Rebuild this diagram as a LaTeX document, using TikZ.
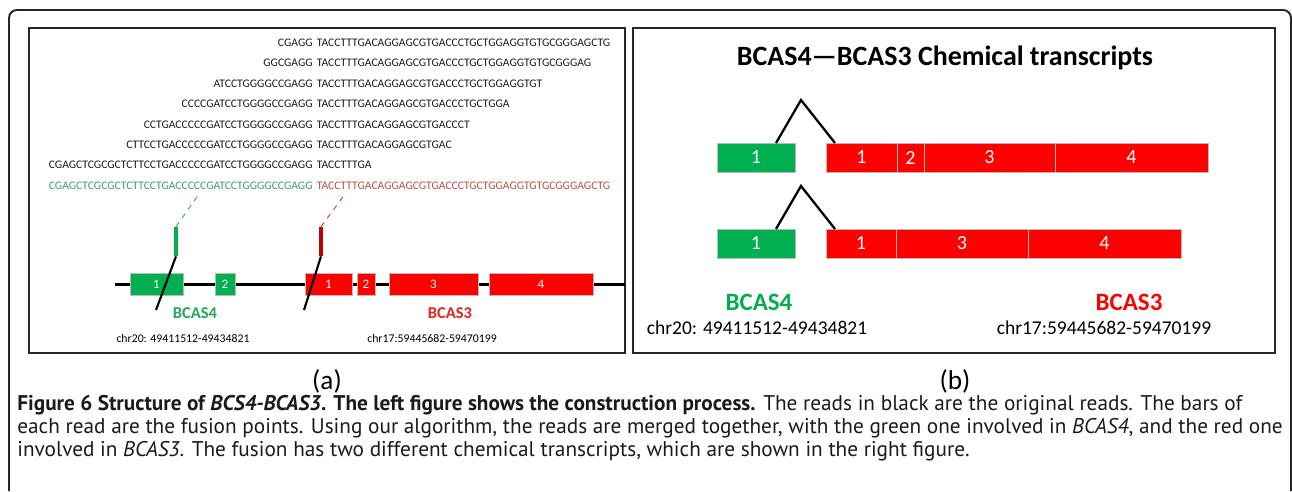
\documentclass[tikz,border=0pt]{standalone}
\usepackage{fontspec}
\setmainfont{Carlito}
\newfontfamily\capfont{PT Sans}
\usetikzlibrary{positioning}
\definecolor{readBlack}{HTML}{1A1A1A}
\definecolor{readGreen}{HTML}{3E9E60}
\definecolor{readRed}{HTML}{C24A48}
\definecolor{exonGreen}{HTML}{00B050}
\definecolor{exonRed}{HTML}{FF0000}
\definecolor{barRed}{HTML}{C00000}
\definecolor{labelGreen}{HTML}{1FA855}
\definecolor{labelRed}{HTML}{E8201E}
\definecolor{frameGrey}{HTML}{262626}

\tikzset{
  readtext/.style={inner sep=0pt, text=readBlack, font=\fontsize{6.6}{7}\selectfont},
  exonA/.style={draw=gray!55, line width=0.3pt, text=white, inner sep=0pt, outer sep=0pt,
    minimum height=0.44cm, font=\fontsize{7.4}{8}\selectfont},
  exonB/.style={exonA, minimum height=0.58cm, font=\fontsize{11.4}{12}\selectfont},
  fusebar/.style={inner sep=0pt, minimum width=0.08cm, minimum height=0.58cm},
  genelabA/.style={inner sep=0pt, font=\bfseries\fontsize{9.4}{10}\selectfont},
  genelabB/.style={inner sep=0pt, font=\bfseries\fontsize{14.2}{15}\selectfont},
  chrA/.style={inner sep=0pt, text=black, font=\fontsize{6.7}{7}\selectfont},
  chrB/.style={inner sep=0pt, text=black, font=\fontsize{11.1}{12}\selectfont},
  panel/.style={draw=frameGrey, line width=1.1pt},
  splice/.style={line width=1.3pt, black},
}

\begin{document}
\begin{tikzpicture}[x=0.02cm, y=-0.02cm]
  \useasboundingbox (0,0) rectangle (1292,491);
  % outer frame and panels
  \draw[frameGrey, line width=1.1pt, rounded corners=0.16cm] (9,491) -- (9,10) -- (1291,10) -- (1291,491);
  \draw[panel] (29,28) rectangle (625,353);
  \draw[panel] (633,28) rectangle (1275,353);

  % (a) reads
  \foreach \pre/\suf [count=\i] in {
      CGAGG/TACCTTTGACAGGAGCGTGACCCTGCTGGAGGTGTGCGGGAGCTG,
      GGCGAGG/TACCTTTGACAGGAGCGTGACCCTGCTGGAGGTGTGCGGGAG,
      ATCCTGGGGCCGAGG/TACCTTTGACAGGAGCGTGACCCTGCTGGAGGTGT,
      CCCCGATCCTGGGGCCGAGG/TACCTTTGACAGGAGCGTGACCCTGCTGGA,
      CCTGACCCCCGATCCTGGGGCCGAGG/TACCTTTGACAGGAGCGTGACCCT,
      CTTCCTGACCCCCGATCCTGGGGCCGAGG/TACCTTTGACAGGAGCGTGAC,
      CGAGCTCGCGCTCTTCCTGACCCCCGATCCTGGGGCCGAGG/TACCTTTGA} {
    \node[readtext, anchor=base east] (pre\i) at ({313},{46.5+20.4*(\i-1)}) {\pre};
    \node[readtext, anchor=base west] (suf\i) at ({316.5},{46.5+20.4*(\i-1)}) {\suf};
  }
  \node[readtext, anchor=base east, text=readGreen] (mergeL) at (313,189.3) {CGAGCTCGCGCTCTTCCTGACCCCCGATCCTGGGGCCGAGG};
  \node[readtext, anchor=base west, text=readRed] (mergeR) at (316.5,189.3) {TACCTTTGACAGGAGCGTGACCCTGCTGGAGGTGTGCGGGAGCTG};

  % (a) gene structure
  \draw[line width=1.7pt] (115,284) -- (625,284);
  \node[exonA, fill=exonGreen, minimum width=1.06cm] (a4e1) at (156.5,284) {1};
  \node[exonA, fill=exonGreen, minimum width=0.40cm] (a4e2) at (225,284) {2};
  \node[exonA, fill=exonRed, minimum width=0.94cm] (a3e1) at (328.5,284) {1};
  \node[exonA, fill=exonRed, minimum width=0.36cm] (a3e2) at (366,284) {2};
  \node[exonA, fill=exonRed, minimum width=1.78cm] (a3e3) at (433.5,284) {3};
  \node[exonA, fill=exonRed, minimum width=2.08cm] (a3e4) at (541,284) {4};

  \node[fusebar, fill=exonGreen] (bar4) at (176,241.5) {};
  \node[fusebar, fill=barRed] (bar3) at (321,241.5) {};
  \coordinate (read4) at (199,194);
  \coordinate (read3) at (345,194);
  \coordinate (cut4) at (156,310);
  \coordinate (cut3) at (304,310);
  \draw[readGreen, dashed, line width=0.5pt] (bar4.north) -- (read4);
  \draw[barRed!80, dashed, line width=0.5pt] (bar3.north) -- (read3);
  \draw[line width=1.2pt] (bar4.south) -- (cut4);
  \draw[line width=1.2pt] (bar3.south) -- (cut3);

  \node[genelabA, text=labelGreen] (a4name) at (195,313) {BCAS4};
  \node[genelabA, text=labelRed] (a3name) at (450,313) {BCAS3};
  \node[chrA] (a4chr) at (183,338) {chr20: 49411512-49434821};
  \node[chrA] (a3chr) at (432,338) {chr17:59445682-59470199};

  % (b) transcripts
  \node[inner sep=0pt, font=\bfseries\fontsize{15.9}{17}\selectfont] (title) at (945,58) {BCAS4—BCAS3 Chemical transcripts};

  \node[exonB, fill=exonGreen, minimum width=1.56cm] (t1g) at (756,157.5) {1};
  \node[exonB, fill=exonRed, minimum width=1.42cm, anchor=west] (t1r1) at (826,157.5) {1};
  \node[exonB, fill=exonRed, minimum width=0.54cm, right=0pt of t1r1] (t1r2) {2};
  \node[exonB, fill=exonRed, minimum width=2.62cm, right=0pt of t1r2] (t1r3) {3};
  \node[exonB, fill=exonRed, minimum width=3.06cm, right=0pt of t1r3] (t1r4) {4};
  \coordinate (t1top) at (801,100);
  \draw[splice] ([xshift=-0.38cm]t1g.north east) -- (t1top) -- ([xshift=0.18cm]t1r1.north west);

  \node[exonB, fill=exonGreen, minimum width=1.56cm] (t2g) at (756,243.5) {1};
  \node[exonB, fill=exonRed, minimum width=1.40cm, anchor=west] (t2r1) at (826,243.5) {1};
  \node[exonB, fill=exonRed, minimum width=2.64cm, right=0pt of t2r1] (t2r3) {3};
  \node[exonB, fill=exonRed, minimum width=3.06cm, right=0pt of t2r3] (t2r4) {4};
  \coordinate (t2top) at (801,186);
  \draw[splice] ([xshift=-0.38cm]t2g.north east) -- (t2top) -- ([xshift=0.18cm]t2r1.north west);

  \node[genelabB, text=exonGreen] (b4name) at (759,302) {BCAS4};
  \node[genelabB, text=exonRed] (b3name) at (1129,302) {BCAS3};
  \node[chrB] (b4chr) at (757,328) {chr20: 49411512-49434821};
  \node[chrB] (b3chr) at (1104,328) {chr17:59445682-59470199};

  % panel tags and caption
  \node[inner sep=0pt, font=\fontsize{15.5}{17}\selectfont] (taga) at (327,381) {(a)};
  \node[inner sep=0pt, font=\fontsize{15.5}{17}\selectfont] (tagb) at (955,381) {(b)};
  \node[anchor=north west, inner sep=0pt, align=left, text=readBlack,
        font=\capfont\fontsize{12.1}{13.1}\selectfont] (caption) at (17,395) {%
    {\bfseries Figure 6 Structure of \textit{BCS4-BCAS3}. The left figure shows the construction process.} The reads in black are the original reads. The bars of\\
    each read are the fusion points. Using our algorithm, the reads are merged together, with the green one involved in \textit{BCAS4}, and the red one\\
    involved in \textit{BCAS3}. The fusion has two different chemical transcripts, which are shown in the right figure.};
\end{tikzpicture}
\end{document}
